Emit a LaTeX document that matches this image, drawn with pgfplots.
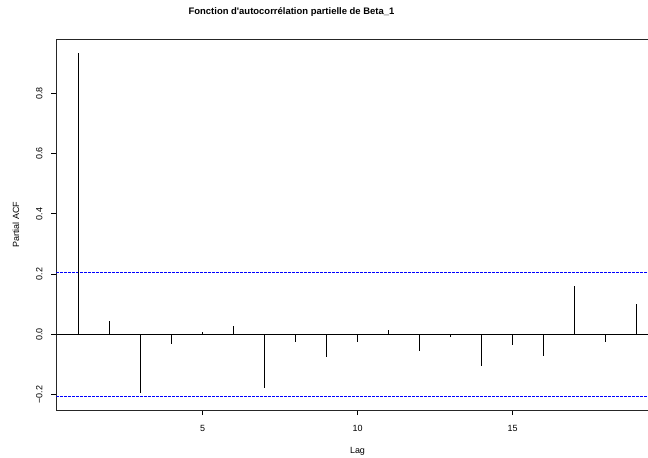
\documentclass[border=0pt]{standalone}
\usepackage{fontspec}
\setmainfont{Liberation Sans}
\usepackage{pgfplots}
\pgfplotsset{compat=1.18}
\begin{document}
\begin{tikzpicture}
\useasboundingbox (-56.3bp,-47.8bp) rectangle (591.7bp,410.2bp);
\begin{axis}[
  at={(0,0)}, anchor=south west,
  scale only axis,
  width=591.7bp, height=371.1bp,
  xmin=0.28, xmax=19.367,
  ymin=-0.252, ymax=0.98,
  axis x line*=box, axis y line*=left,
  axis line style={-, line width=0.75bp, black!85},
  tick align=outside,
  xtick pos=bottom, ytick pos=left,
  major tick length=5bp,
  tick style={line width=0.75bp, black},
  xtick={5,10,15},
  ytick={-0.2,0,0.2,0.4,0.6,0.8},
  yticklabels={−0.2,0.0,0.2,0.4,0.6,0.8},
  tick label style={font=\fontsize{9}{10}\selectfont},
  xticklabel style={anchor=north, inner sep=0pt},
  xticklabel shift=9.8bp,
  yticklabel style={rotate=90, anchor=south, inner sep=0pt},
  yticklabel shift=8.6bp,
  /pgf/number format/assume math mode=true,
]
\addplot[black, line width=0.75bp, forget plot] coordinates {(0.28,0) (19.367,0)};
\addplot[blue, line width=0.75bp, dash pattern=on 2.5bp off 1.5bp] coordinates {(0.28,0.206) (19.367,0.206)};
\addplot[blue, line width=0.75bp, dash pattern=on 2.5bp off 1.5bp] coordinates {(0.28,-0.206) (19.367,-0.206)};
\addplot[ycomb, black, line width=0.75bp, mark=none] coordinates {
(1,0.935) (2,0.044) (3,-0.196) (4,-0.033) (5,0.008) (6,0.027) (7,-0.177)
(8,-0.027) (9,-0.074) (10,-0.024) (11,0.014) (12,-0.054) (13,-0.010)
(14,-0.106) (15,-0.037) (16,-0.072) (17,0.160) (18,-0.025) (19,0.100)
};
\end{axis}
\node[font=\bfseries\fontsize{9.5}{11}\selectfont] at (235.2bp,398.2bp) {Fonction d\textquotesingle autocorrélation partielle de Beta\_1};
\node[font=\fontsize{9}{10}\selectfont, anchor=base] at (301.2bp,-43.3bp) {Lag};
\node[font=\fontsize{9}{10}\selectfont, rotate=90] at (-40.3bp,185.5bp) {Partial ACF};
\end{tikzpicture}
\end{document}
